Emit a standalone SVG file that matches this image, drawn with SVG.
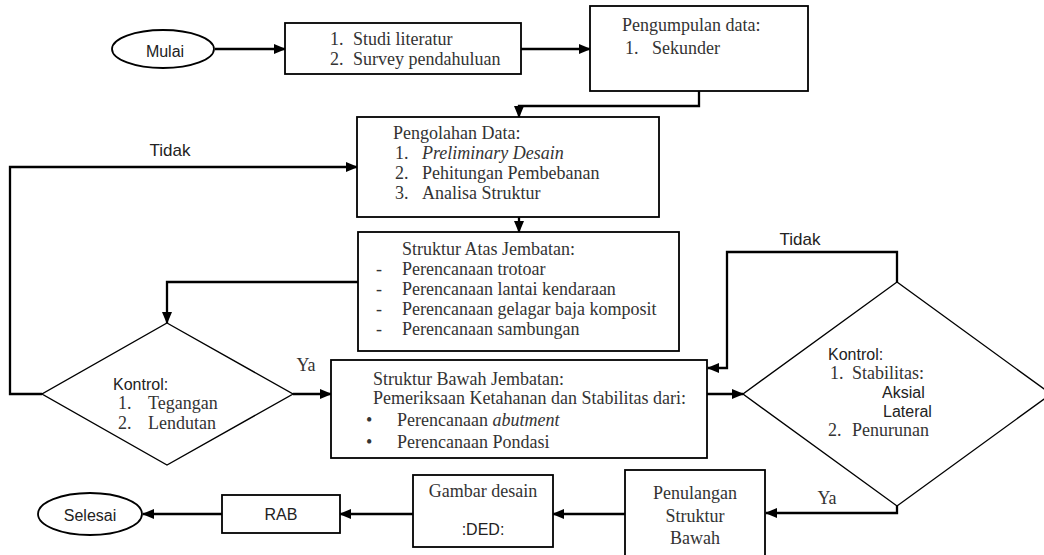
<svg xmlns="http://www.w3.org/2000/svg" width="1044" height="555" viewBox="0 0 1044 555">
<defs>
<marker id="ah" markerWidth="12" markerHeight="10" refX="11" refY="5" orient="auto" markerUnits="userSpaceOnUse">
<path d="M0,0 L12,5 L0,10 Z" fill="#000"/>
</marker>
<style>
.box{fill:#fff;stroke:#000;stroke-width:1.8}
.dia{fill:#fff;stroke:#000;stroke-width:1.4}
.con{fill:none;stroke:#000;stroke-width:2.3;marker-end:url(#ah)}
.t{font-family:"Liberation Serif","Times New Roman",serif;font-size:18px;fill:#333}
.s{font-family:"Liberation Sans",Arial,sans-serif;font-size:16px;fill:#222}
.l{font-size:17px}
.m{text-anchor:middle}
.i{font-style:italic}
</style>
</defs>
<rect width="1044" height="555" fill="#fff"/>
<g id="connectors">
<path class="con" d="M215,49 H285"/>
<path class="con" d="M521,49 H590"/>
<path class="con" d="M699,91 V106 H519 V117"/>
<path class="con" d="M519,217 V232"/>
<path class="con" d="M358,282 H167 V323"/>
<path class="con" d="M42,394 H10 V167 H357"/>
<path class="con" d="M293,394 H331"/>
<path class="con" d="M707,394 H743"/>
<path class="con" d="M897,282 V252 H727 V368 H708"/>
<path class="con" d="M897,506 V513 H766"/>
<path class="con" d="M625,514 H553"/>
<path class="con" d="M413,514 H340"/>
<path class="con" d="M222,514 H143"/>
<text class="s l m" x="170" y="156">Tidak</text>
<text class="t m" x="306" y="371">Ya</text>
<text class="s l m" x="800" y="245">Tidak</text>
<text class="t m" x="827" y="504">Ya</text>
</g>
<g id="mulai">
<ellipse class="box" cx="163" cy="49" rx="51" ry="19"/>
<text class="s m" x="165" y="57">Mulai</text>
</g>
<g id="studi">
<rect class="box" x="285" y="23" width="236" height="51"/>
<text class="t" x="330" y="45">1.</text><text class="t" x="353" y="45">Studi literatur</text>
<text class="t" x="330" y="65">2.</text><text class="t" x="353" y="65">Survey pendahuluan</text>
</g>
<g id="pengumpulan">
<rect class="box" x="590" y="6" width="218" height="85"/>
<text class="t" x="622" y="31">Pengumpulan data:</text>
<text class="t" x="625" y="54">1.</text><text class="t" x="652" y="54">Sekunder</text>
</g>
<g id="pengolahan">
<rect class="box" x="357" y="117" width="302" height="100"/>
<text class="t" x="393" y="139">Pengolahan Data:</text>
<text class="t" x="395" y="159">1.</text><text class="t i" x="422" y="159">Preliminary Desain</text>
<text class="t" x="395" y="179">2.</text><text class="t" x="422" y="179">Pehitungan Pembebanan</text>
<text class="t" x="395" y="199">3.</text><text class="t" x="422" y="199">Analisa Struktur</text>
</g>
<g id="atas">
<rect class="box" x="358" y="232" width="321" height="119"/>
<text class="t" x="402" y="255">Struktur Atas Jembatan:</text>
<text class="t" x="376" y="275">-</text><text class="t" x="402" y="275">Perencanaan trotoar</text>
<text class="t" x="376" y="295">-</text><text class="t" x="402" y="295">Perencanaan lantai kendaraan</text>
<text class="t" x="376" y="315">-</text><text class="t" x="402" y="315">Perencanaan gelagar baja komposit</text>
<text class="t" x="376" y="335">-</text><text class="t" x="402" y="335">Perencanaan sambungan</text>
</g>
<g id="kontrol1">
<polygon class="dia" points="167,323 293,394 167,465 42,394"/>
<text class="s" x="113" y="390">Kontrol:</text>
<text class="t" x="118" y="409">1.</text><text class="t" x="148" y="409">Tegangan</text>
<text class="t" x="118" y="429">2.</text><text class="t" x="148" y="429">Lendutan</text>
</g>
<g id="bawah">
<rect class="box" x="331" y="360" width="376" height="98"/>
<text class="t" x="373" y="385">Struktur Bawah Jembatan:</text>
<text class="t" x="373" y="404">Pemeriksaan Ketahanan dan Stabilitas dari:</text>
<text class="t" x="366" y="426">•</text><text class="t" x="397" y="426">Perencanaan <tspan class="i">abutment</tspan></text>
<text class="t" x="366" y="448">•</text><text class="t" x="397" y="448">Perencanaan Pondasi</text>
</g>
<g id="kontrol2">
<polygon class="dia" points="897,282 1051,394 897,506 743,394"/>
<text class="s" x="828" y="360">Kontrol:</text>
<text class="t" x="830" y="379">1.</text><text class="t" x="852" y="379">Stabilitas:</text>
<text class="s" x="882" y="398">Aksial</text>
<text class="s" x="883" y="417">Lateral</text>
<text class="t" x="828" y="436">2.</text><text class="t" x="852" y="436">Penurunan</text>
</g>
<g id="penulangan">
<rect class="box" x="625" y="470" width="140" height="95"/>
<text class="t m" x="695" y="499">Penulangan</text>
<text class="t m" x="695" y="522">Struktur</text>
<text class="t m" x="695" y="544">Bawah</text>
</g>
<g id="gambar">
<rect class="box" x="413" y="475" width="140" height="72"/>
<text class="t m" x="483" y="497">Gambar desain</text>
<text class="s m" x="483" y="535">:DED:</text>
</g>
<g id="rab">
<rect class="box" x="222" y="495" width="118" height="38"/>
<text class="s m" x="281" y="520">RAB</text>
</g>
<g id="selesai">
<ellipse class="box" cx="90" cy="514" rx="52" ry="21"/>
<text class="s m" x="90" y="521">Selesai</text>
</g>
</svg>
